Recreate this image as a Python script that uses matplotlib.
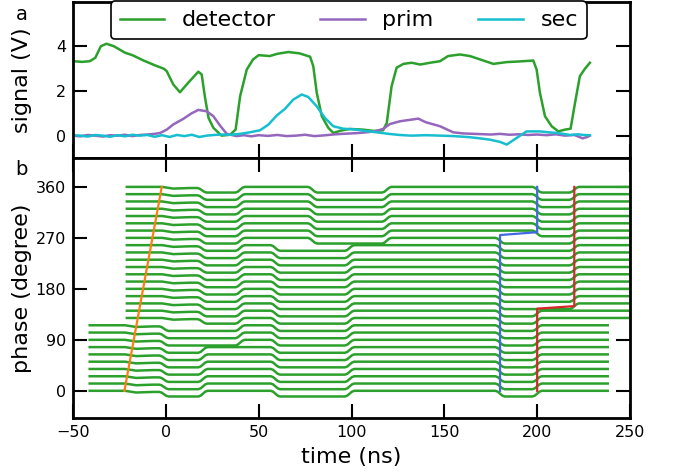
import numpy as np
import matplotlib.pyplot as plt

det_t = [-50, -45, -41, -38, -35, -32, -28, -22, -18, -12, -6, -1, 0.5, 4, 7.6, 12,
         17.5, 19.3, 21, 23, 25.6, 30, 34.6, 37.6, 40, 43.6, 47, 50, 56, 60, 66, 72,
         77.7, 79.4, 81.3, 84, 87.5, 90.2, 94, 99, 106, 112, 117, 119, 121.6, 124.3,
         128, 132.4, 137, 142.3, 147.7, 152, 158.4, 163.8, 169.2, 176.4, 183.6, 190.7,
         197.9, 199.7, 201.5, 204.2, 207.8, 211.4, 215, 218, 220.4, 223, 225.7, 228.4]
det_v = [3.33, 3.30, 3.33, 3.48, 4.0, 4.11, 4.0, 3.71, 3.6, 3.36, 3.15, 2.99, 2.88, 2.29,
         1.94, 2.36, 2.86, 2.74, 1.76, 0.79, 0.35, 0.0, 0.04, 0.27, 1.76, 2.96, 3.41, 3.6,
         3.56, 3.66, 3.74, 3.68, 3.53, 3.11, 1.91, 0.87, 0.35, 0.12, 0.22, 0.3, 0.27, 0.21,
         0.24, 0.57, 2.21, 3.04, 3.21, 3.26, 3.18, 3.26, 3.33, 3.56, 3.63, 3.56, 3.41, 3.21,
         3.29, 3.32, 3.36, 2.96, 1.91, 0.87, 0.42, 0.19, 0.27, 0.31, 1.47, 2.66, 2.99, 3.26]

prim_t = [-50, -46, -42, -38, -34, -30, -26, -22, -18, -14, -10, -6, -3, 0.5, 4, 9.4,
          13.9, 17.5, 22, 25.6, 29.2, 32.8, 38, 42, 46, 50, 55, 60, 65, 70, 75, 80, 85,
          90, 95, 100, 104, 108, 113, 117, 120.7, 126, 130, 136, 140, 147.7, 154.7, 160,
          169, 175, 180, 185, 190, 195, 200, 205, 210, 215, 220, 224.5, 227, 228.4]
prim_v = [0.0, -0.03, 0.03, 0.0, -0.04, 0.02, 0.0, 0.04, -0.02, 0.03, 0.05, 0.08, 0.12,
          0.27, 0.5, 0.75, 1.0, 1.15, 1.09, 0.87, 0.45, 0.08, -0.02, 0.02, -0.03, 0.02,
          -0.01, 0.03, -0.02, 0.0, 0.04, -0.02, 0.01, 0.05, 0.08, 0.1, 0.12, 0.15, 0.2,
          0.3, 0.52, 0.64, 0.69, 0.76, 0.6, 0.42, 0.15, 0.1, 0.07, 0.05, 0.08, 0.04, 0.06,
          0.03, 0.05, 0.02, 0.06, 0.0, 0.03, -0.12, -0.06, 0.0]

sec_t = [-50, -46, -42, -38, -34, -30, -26, -22, -18, -14, -10, -6, -2, 2, 6, 10, 14,
         18, 22, 26, 30, 35, 40, 45.3, 50.7, 55.2, 59.7, 64.2, 68.6, 73.2, 76.7, 81.3,
         85.7, 90.2, 95.6, 102.8, 108, 113.6, 120, 126, 132, 140, 148, 155, 163.8, 169,
         174.6, 180, 183.6, 189, 194.3, 201.5, 206, 210.5, 214, 217.7, 222, 225, 228.4]
sec_v = [0.02, 0.0, -0.04, 0.03, 0.0, -0.05, 0.02, -0.03, 0.04, 0.0, 0.03, -0.05, 0.02,
         -0.06, 0.03, -0.02, 0.04, -0.06, 0.0, 0.03, 0.05, 0.04, 0.08, 0.15, 0.24, 0.49,
         0.9, 1.2, 1.61, 1.84, 1.73, 1.31, 0.79, 0.42, 0.31, 0.27, 0.2, 0.15, 0.08, 0.03,
         0.0, 0.02, 0.0, -0.02, -0.07, -0.12, -0.18, -0.28, -0.4, -0.1, 0.19, 0.19, 0.15,
         0.12, 0.08, 0.03, 0.06, 0.03, 0.02]

# ---- panel b: waterfall of detector traces vs phase ----
phases = np.linspace(0, 360, 29)          # one trace every 360/28 degree
late_from = 10                            # traces >= this index start 20 ns later
trace_start = {'early': -41, 'late': -21}
trace_end = {'early': 238, 'late': 258}

# small droop right after trigger (times for early / late traces, level in degree)
droop_early = [-22, -16, -7]
droop_late = [-2, 4, 13]
droop_level = [0, -3, -2]

# edges of the detector pulse pattern: time for early/late traces,
# first trace index using the late time, and the level after the edge
edge_early = [-1, 20, 59, 99, 180, 200]
edge_late = [19.5, 40, 79, 119, 200, 220]
edge_switch = [10, 7, 21, 21, 22, 12]
edge_level = [-10, 0, -10, 0, -10, 0]
edge_width = 5
# rounded step: time offsets (fraction of width) and fraction of the jump
step_dt = [-0.5, -0.25, 0, 0.25, 0.5]
step_frac = [0, 0.15, 0.5, 0.85, 1]

# guide lines
orange_t = [-22.3, -2.2]
orange_p = [0, 360]
blue_t = [180, 180, 200, 200]
blue_p = [0, 275, 280, 360]
red_t = [200, 200, 220, 220]
red_p = [0, 145, 149.5, 360]

GREEN = '#2ca02c'

fig = plt.figure(figsize=(6.78, 4.76), dpi=100)
left, width = 73 / 678, 557 / 678
ax1 = fig.add_axes([left, 1 - 158 / 476, width, 156.5 / 476])
ax2 = fig.add_axes([left, 1 - 418 / 476, width, 260 / 476])

ax1.plot(det_t, det_v, color=GREEN, lw=1.8, label='detector')
ax1.plot(prim_t, prim_v, color='#9467bd', lw=1.8, label='prim')
ax1.plot(sec_t, sec_v, color='#17becf', lw=1.8, label='sec')
ax1.set_xlim(-50, 250)
ax1.set_ylim(-1, 6)
ax1.set_yticks([0, 2, 4])
ax1.set_xticks(range(-50, 251, 50))
leg = ax1.legend(ncol=3, loc='upper center', bbox_to_anchor=(0.495, 1.0),
                 borderaxespad=0, fontsize=16, framealpha=1, edgecolor='black')
leg.get_frame().set_linewidth(1.2)
ax1.tick_params(direction='in', length=10, width=1.5, labelsize=11.5, pad=5,
                right=True, top=False, labelbottom=False)
ax1.set_ylabel('signal (V)', fontsize=16)
ax1.yaxis.set_label_coords(-0.074, 0.5)

for k, ph in enumerate(phases):
    grp = 'late' if k >= late_from else 'early'
    droop_t = droop_late if grp == 'late' else droop_early
    ts = [trace_start[grp]]
    ys = [0]
    for t, lv in zip(droop_t, droop_level):
        ts.append(t)
        ys.append(lv)
    for i in range(len(edge_level)):
        te = edge_late[i] if k >= edge_switch[i] else edge_early[i]
        y0 = ys[-1]
        for dt, fr in zip(step_dt, step_frac):
            ts.append(te + dt * edge_width)
            ys.append(y0 + fr * (edge_level[i] - y0))
    ts.append(trace_end[grp])
    ys.append(0)
    ax2.plot(ts, np.array(ys) + ph, color=GREEN, lw=1.8)

ax2.plot(orange_t, orange_p, color='#ff7f0e', lw=1.6, zorder=3)
ax2.plot(blue_t, blue_p, color='royalblue', lw=1.6, zorder=3)
ax2.plot(red_t, red_p, color='#d62728', lw=1.6, zorder=3)
ax2.set_xlim(-50, 250)
ax2.set_ylim(-48, 411)
ax2.set_xticks(range(-50, 251, 50))
ax2.set_yticks([0, 90, 180, 270, 360])
ax2.tick_params(direction='in', length=10, width=1.5, labelsize=11.5, pad=5,
                right=True, top=True)
ax2.set_ylabel('phase (degree)', fontsize=16)
ax2.yaxis.set_label_coords(-0.074, 0.5)
ax2.set_xlabel('time (ns)', fontsize=16)
ax2.xaxis.set_label_coords(0.5, -0.11)

for ax in (ax1, ax2):
    for sp in ax.spines.values():
        sp.set_linewidth(2)

fig.text(22 / 678, 1 - 20 / 476, 'a', fontsize=14, ha='center', va='baseline')
fig.text(21 / 678, 1 - 175 / 476, 'b', fontsize=14, ha='center', va='baseline')

fig.savefig('out.png', dpi=100)
